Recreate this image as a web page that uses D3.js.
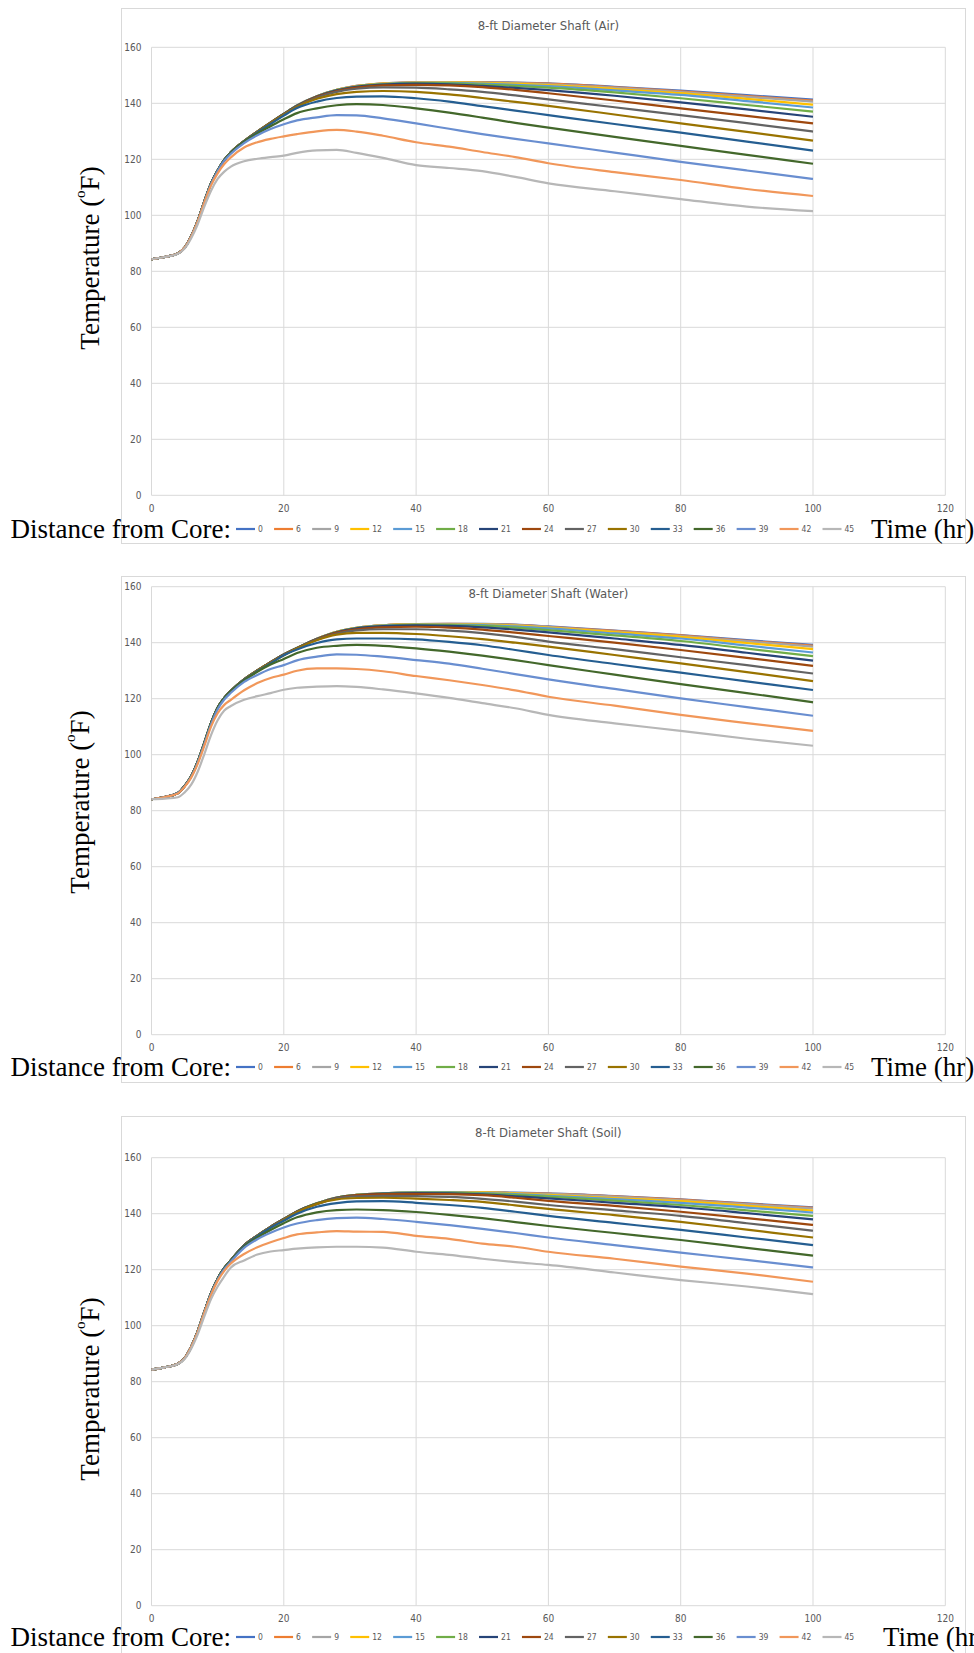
<!DOCTYPE html>
<html>
<head>
<meta charset="utf-8">
<script src="https://cdn.jsdelivr.net/npm/d3@7"></script>
<style>
  body { margin: 0; background: #fff; }
  svg { display: block; }
</style>
</head>
<body>
<svg id="chart" width="974" height="1653"></svg>
<script>
// Time axis samples (hr)
const hours = [0, 2, 4, 5, 6, 7, 8, 9, 10, 11, 12, 14, 16, 18, 20, 22, 25, 28, 31, 35, 40, 45, 50, 55, 60, 70, 80, 90, 100]

// Distance from core (series names)
const distances = [0, 6, 9, 12, 15, 18, 21, 24, 27, 30, 33, 36, 39, 42, 45]

const colors = [
    '#4472c4', '#ed7d31', '#a5a5a5', '#ffc000', '#5b9bd5',
    '#70ad47', '#264478', '#9e480e', '#636363', '#997300',
    '#255e91', '#43682b', '#698ed0', '#f1975a', '#b7b7b7',
]

const titles = [
    '8-ft Diameter Shaft (Air)',
    '8-ft Diameter Shaft (Water)',
    '8-ft Diameter Shaft (Soil)',
]

const xTicks = [0, 20, 40, 60, 80, 100, 120]
const yTicks = [0, 20, 40, 60, 80, 100, 120, 140, 160]

// Temperatures (F), one row per distance, one value per entry of hours
const airTemps = [
    [84.3, 85.1, 86.4, 88.4, 92.5, 98.1, 105.0, 111.4, 116.0, 119.8, 122.5, 126.5, 129.9, 133.1, 136.2, 139.2, 142.5, 144.8, 146.2, 147.1, 147.5, 147.6, 147.6, 147.4, 147.1, 145.9, 144.5, 142.9, 141.3],
    [84.3, 85.1, 86.4, 88.4, 92.5, 98.1, 105.0, 111.4, 116.0, 119.8, 122.5, 126.5, 129.9, 133.1, 136.2, 139.2, 142.5, 144.8, 146.2, 147.1, 147.5, 147.6, 147.5, 147.3, 147.0, 145.7, 144.3, 142.6, 141.0],
    [84.3, 85.1, 86.4, 88.4, 92.5, 98.1, 105.0, 111.4, 116.0, 119.8, 122.5, 126.5, 129.9, 133.1, 136.2, 139.2, 142.5, 144.8, 146.1, 147.0, 147.4, 147.5, 147.4, 147.2, 146.8, 145.5, 144.0, 142.3, 140.6],
    [84.3, 85.1, 86.4, 88.4, 92.5, 98.1, 105.0, 111.4, 116.0, 119.8, 122.5, 126.5, 129.9, 133.1, 136.2, 139.2, 142.5, 144.8, 146.1, 147.0, 147.4, 147.5, 147.3, 147.0, 146.5, 145.1, 143.6, 141.6, 139.5],
    [84.3, 85.1, 86.4, 88.4, 92.5, 98.1, 105.0, 111.4, 116.0, 119.8, 122.5, 126.5, 129.9, 133.1, 136.2, 139.2, 142.5, 144.7, 146.0, 146.9, 147.3, 147.3, 147.0, 146.6, 146.1, 144.6, 143.0, 140.8, 138.5],
    [84.3, 85.1, 86.4, 88.4, 92.5, 98.1, 105.0, 111.4, 116.0, 119.8, 122.5, 126.5, 129.9, 133.1, 136.2, 139.1, 142.4, 144.7, 146.0, 146.8, 147.2, 147.1, 146.7, 146.2, 145.6, 143.9, 141.8, 139.4, 137.0],
    [84.3, 85.1, 86.4, 88.4, 92.5, 98.1, 105.0, 111.4, 116.0, 119.8, 122.5, 126.5, 129.9, 133.1, 136.2, 139.1, 142.4, 144.6, 145.9, 146.7, 147.0, 146.8, 146.2, 145.5, 144.7, 142.7, 140.3, 137.8, 135.2],
    [84.3, 85.1, 86.4, 88.4, 92.5, 98.1, 105.0, 111.4, 116.0, 119.8, 122.5, 126.5, 129.9, 133.1, 136.1, 139.0, 142.3, 144.4, 145.6, 146.4, 146.6, 146.4, 145.8, 144.8, 143.6, 141.0, 138.2, 135.5, 132.8],
    [84.3, 85.1, 86.4, 88.4, 92.5, 98.1, 105.0, 111.4, 116.0, 119.8, 122.5, 126.5, 129.9, 133.0, 136.0, 138.9, 142.1, 144.1, 145.2, 145.7, 145.6, 145.0, 144.1, 142.8, 141.4, 138.6, 135.8, 132.9, 129.9],
    [84.3, 85.1, 86.4, 88.4, 92.5, 98.1, 105.0, 111.4, 116.0, 119.8, 122.5, 126.5, 129.8, 132.9, 135.9, 138.7, 141.6, 143.3, 144.1, 144.4, 144.1, 143.2, 141.9, 140.5, 139.1, 136.0, 132.8, 129.8, 126.7],
    [84.3, 85.1, 86.4, 88.4, 92.5, 98.1, 105.0, 111.4, 116.0, 119.8, 122.4, 126.4, 129.6, 132.6, 135.6, 138.3, 140.6, 141.9, 142.4, 142.5, 141.8, 140.6, 139.0, 137.4, 135.8, 132.6, 129.5, 126.3, 123.1],
    [84.3, 85.1, 86.4, 88.4, 92.5, 98.1, 105.0, 111.4, 116.0, 119.7, 122.3, 126.2, 129.2, 131.8, 134.3, 136.5, 138.2, 139.3, 139.7, 139.4, 138.2, 136.7, 134.9, 133.0, 131.3, 128.0, 124.8, 121.6, 118.4],
    [84.3, 85.1, 86.4, 88.4, 92.5, 98.0, 104.9, 111.2, 115.8, 119.5, 122.0, 125.8, 128.6, 130.8, 132.5, 133.9, 135.0, 135.8, 135.7, 134.6, 132.8, 130.9, 129.0, 127.3, 125.7, 122.4, 119.1, 116.0, 113.0],
    [84.3, 85.1, 86.4, 88.4, 92.4, 97.9, 104.6, 110.7, 115.0, 118.3, 120.7, 124.2, 126.1, 127.3, 128.2, 129.0, 130.0, 130.5, 129.9, 128.4, 126.1, 124.5, 122.6, 120.8, 118.6, 115.4, 112.6, 109.4, 106.9],
    [84.3, 85.1, 86.3, 88.1, 91.8, 96.9, 103.2, 108.8, 113.0, 115.6, 117.4, 119.3, 120.2, 120.8, 121.3, 122.3, 123.2, 123.4, 122.3, 120.5, 117.9, 116.9, 115.8, 113.7, 111.4, 108.6, 105.8, 103.1, 101.5],
]

const waterTemps = [
    [84.1, 84.9, 86.3, 88.8, 92.3, 97.6, 104.3, 111.3, 116.8, 120.3, 122.8, 126.9, 130.1, 133.0, 135.8, 138.1, 141.4, 143.9, 145.3, 146.2, 146.6, 146.7, 146.7, 146.5, 145.8, 144.3, 142.7, 140.9, 139.2],
    [84.1, 84.9, 86.3, 88.8, 92.3, 97.6, 104.3, 111.3, 116.8, 120.3, 122.8, 126.9, 130.1, 133.0, 135.8, 138.1, 141.4, 143.9, 145.3, 146.2, 146.6, 146.7, 146.6, 146.4, 145.7, 144.2, 142.6, 140.7, 138.9],
    [84.1, 84.9, 86.3, 88.8, 92.3, 97.6, 104.3, 111.3, 116.8, 120.3, 122.8, 126.9, 130.1, 133.0, 135.8, 138.1, 141.4, 143.9, 145.3, 146.2, 146.6, 146.6, 146.6, 146.3, 145.6, 144.0, 142.4, 140.5, 138.6],
    [84.1, 84.9, 86.3, 88.8, 92.3, 97.6, 104.3, 111.3, 116.8, 120.3, 122.8, 126.9, 130.1, 133.0, 135.8, 138.1, 141.4, 143.9, 145.3, 146.2, 146.6, 146.6, 146.5, 146.1, 145.4, 143.8, 142.1, 139.9, 137.7],
    [84.1, 84.9, 86.3, 88.8, 92.3, 97.6, 104.3, 111.3, 116.8, 120.3, 122.8, 126.9, 130.1, 133.0, 135.8, 138.1, 141.4, 143.8, 145.2, 146.1, 146.5, 146.5, 146.3, 145.8, 145.1, 143.3, 141.5, 139.0, 136.5],
    [84.1, 84.9, 86.3, 88.8, 92.3, 97.6, 104.3, 111.3, 116.8, 120.3, 122.8, 126.9, 130.1, 133.0, 135.8, 138.1, 141.3, 143.8, 145.2, 146.0, 146.4, 146.3, 146.0, 145.4, 144.5, 142.6, 140.6, 137.9, 135.2],
    [84.1, 84.9, 86.3, 88.8, 92.3, 97.6, 104.3, 111.3, 116.8, 120.3, 122.8, 126.9, 130.1, 133.0, 135.8, 138.1, 141.3, 143.7, 145.1, 145.9, 146.2, 146.0, 145.5, 144.7, 143.7, 141.5, 139.2, 136.4, 133.6],
    [84.1, 84.9, 86.3, 88.8, 92.3, 97.6, 104.3, 111.3, 116.8, 120.3, 122.8, 126.9, 130.1, 133.0, 135.7, 138.0, 141.2, 143.6, 144.8, 145.5, 145.7, 145.4, 144.7, 143.6, 142.4, 140.0, 137.4, 134.6, 131.7],
    [84.1, 84.9, 86.3, 88.8, 92.3, 97.6, 104.3, 111.3, 116.8, 120.3, 122.8, 126.9, 130.1, 132.9, 135.6, 137.9, 141.1, 143.3, 144.4, 144.8, 144.8, 144.3, 143.4, 142.1, 140.4, 137.7, 134.8, 132.0, 129.0],
    [84.1, 84.9, 86.3, 88.8, 92.3, 97.6, 104.3, 111.3, 116.8, 120.3, 122.8, 126.8, 130.0, 132.8, 135.5, 137.9, 140.9, 142.9, 143.5, 143.5, 143.1, 142.3, 141.3, 140.0, 138.6, 135.6, 132.6, 129.5, 126.3],
    [84.1, 84.9, 86.3, 88.8, 92.3, 97.6, 104.3, 111.3, 116.8, 120.3, 122.7, 126.7, 129.8, 132.6, 135.5, 137.6, 139.9, 141.2, 141.5, 141.5, 141.2, 140.3, 139.1, 137.4, 135.6, 132.4, 129.3, 126.2, 123.1],
    [84.1, 84.9, 86.3, 88.8, 92.3, 97.6, 104.3, 111.3, 116.8, 120.2, 122.6, 126.5, 129.6, 132.2, 134.2, 136.3, 138.2, 138.9, 139.2, 138.9, 138.0, 136.8, 135.4, 133.8, 132.0, 128.6, 125.2, 122.0, 118.7],
    [84.1, 84.9, 86.3, 88.7, 92.1, 97.3, 103.9, 110.8, 116.2, 119.7, 122.1, 126.0, 128.5, 130.6, 132.0, 133.7, 135.0, 135.8, 135.7, 135.0, 133.8, 132.5, 130.7, 128.8, 126.9, 123.5, 120.1, 117.0, 113.9],
    [84.1, 84.9, 86.2, 88.5, 91.8, 96.8, 103.2, 110.0, 114.8, 117.8, 119.6, 123.0, 125.6, 127.4, 128.6, 130.0, 130.8, 130.8, 130.6, 129.8, 128.1, 126.6, 124.9, 123.0, 120.7, 117.5, 114.2, 111.3, 108.5],
    [84.1, 84.3, 84.8, 86.5, 89.3, 94.0, 100.3, 107.0, 112.3, 115.8, 117.4, 119.6, 120.9, 122.0, 123.2, 123.9, 124.3, 124.5, 124.2, 123.3, 121.9, 120.3, 118.4, 116.6, 114.2, 111.2, 108.5, 105.7, 103.2],
]

const soilTemps = [
    [84.3, 85.1, 86.4, 88.4, 92.5, 98.1, 105.0, 111.6, 116.8, 120.6, 123.4, 128.7, 132.2, 135.3, 138.1, 140.8, 143.7, 145.8, 146.7, 147.3, 147.6, 147.7, 147.7, 147.5, 147.3, 146.3, 145.1, 143.7, 142.3],
    [84.3, 85.1, 86.4, 88.4, 92.5, 98.1, 105.0, 111.6, 116.8, 120.6, 123.4, 128.7, 132.2, 135.3, 138.1, 140.8, 143.7, 145.8, 146.7, 147.3, 147.6, 147.7, 147.6, 147.4, 147.2, 146.2, 145.0, 143.5, 142.1],
    [84.3, 85.1, 86.4, 88.4, 92.5, 98.1, 105.0, 111.6, 116.8, 120.6, 123.4, 128.7, 132.2, 135.3, 138.1, 140.8, 143.7, 145.8, 146.7, 147.3, 147.6, 147.6, 147.6, 147.3, 147.1, 146.0, 144.8, 143.3, 141.8],
    [84.3, 85.1, 86.4, 88.4, 92.5, 98.1, 105.0, 111.6, 116.8, 120.6, 123.4, 128.7, 132.2, 135.3, 138.1, 140.8, 143.7, 145.8, 146.7, 147.3, 147.6, 147.6, 147.6, 147.3, 146.7, 145.6, 144.5, 142.8, 141.1],
    [84.3, 85.1, 86.4, 88.4, 92.5, 98.1, 105.0, 111.6, 116.8, 120.6, 123.4, 128.7, 132.2, 135.3, 138.1, 140.8, 143.7, 145.8, 146.7, 147.3, 147.6, 147.6, 147.4, 147.0, 146.4, 145.2, 143.9, 142.2, 140.4],
    [84.3, 85.1, 86.4, 88.4, 92.5, 98.1, 105.0, 111.6, 116.8, 120.6, 123.4, 128.7, 132.2, 135.3, 138.1, 140.8, 143.7, 145.7, 146.7, 147.2, 147.5, 147.5, 147.2, 146.7, 146.1, 144.7, 143.1, 141.2, 139.2],
    [84.3, 85.1, 86.4, 88.4, 92.5, 98.1, 105.0, 111.6, 116.8, 120.6, 123.4, 128.7, 132.2, 135.3, 138.1, 140.8, 143.6, 145.7, 146.6, 147.2, 147.4, 147.3, 146.9, 146.2, 145.5, 143.9, 142.3, 140.2, 138.0],
    [84.3, 85.1, 86.4, 88.4, 92.5, 98.1, 105.0, 111.6, 116.8, 120.6, 123.4, 128.7, 132.2, 135.3, 138.0, 140.7, 143.5, 145.6, 146.6, 147.0, 147.1, 147.0, 146.6, 145.7, 144.6, 142.8, 140.7, 138.4, 136.0],
    [84.3, 85.1, 86.4, 88.4, 92.5, 98.1, 105.0, 111.6, 116.8, 120.6, 123.4, 128.7, 132.2, 135.2, 137.9, 140.6, 143.4, 145.5, 146.2, 146.4, 146.3, 146.0, 145.3, 144.3, 143.1, 141.2, 139.2, 136.6, 133.9],
    [84.3, 85.1, 86.4, 88.4, 92.5, 98.1, 105.0, 111.6, 116.8, 120.6, 123.4, 128.6, 132.1, 135.1, 137.8, 140.5, 143.5, 145.1, 145.6, 145.7, 145.4, 144.9, 144.2, 143.0, 141.7, 139.5, 137.1, 134.3, 131.5],
    [84.3, 85.1, 86.4, 88.4, 92.5, 98.1, 105.0, 111.6, 116.8, 120.6, 123.3, 128.5, 132.0, 135.0, 137.5, 140.0, 142.5, 143.8, 144.4, 144.5, 143.9, 143.1, 142.1, 140.7, 139.2, 136.7, 134.2, 131.5, 128.8],
    [84.3, 85.1, 86.4, 88.4, 92.5, 98.1, 105.0, 111.6, 116.8, 120.5, 123.2, 128.2, 131.5, 134.2, 136.6, 138.7, 140.5, 141.3, 141.5, 141.3, 140.6, 139.6, 138.4, 137.0, 135.6, 133.1, 130.6, 127.8, 125.0],
    [84.3, 85.1, 86.4, 88.4, 92.5, 98.0, 104.9, 111.4, 116.5, 120.2, 122.9, 127.8, 130.9, 133.2, 135.1, 136.5, 137.7, 138.4, 138.6, 138.1, 137.1, 135.9, 134.6, 133.1, 131.5, 128.8, 126.1, 123.5, 120.8],
    [84.3, 85.1, 86.4, 88.4, 92.4, 97.9, 104.7, 111.0, 116.0, 119.6, 122.2, 125.6, 128.0, 129.8, 131.3, 132.6, 133.3, 133.8, 133.6, 133.5, 132.1, 131.0, 129.3, 128.2, 126.4, 123.9, 121.1, 118.6, 115.7],
    [84.3, 85.1, 86.3, 88.1, 91.8, 97.0, 103.4, 109.5, 114.0, 117.6, 120.8, 123.3, 125.4, 126.5, 127.0, 127.5, 128.0, 128.2, 128.2, 127.9, 126.4, 125.3, 123.9, 122.7, 121.7, 119.0, 116.3, 114.0, 111.3],
]

/* Layout of the three stacked panels */
const panels = [
    { title: titles[0], temps: airTemps, boxTop: 8, boxBottom: 543, titleY: 25, plotTop: 47.3, yLabel: [90, 258], rowY: 529, timeX: 871 },
    { title: titles[1], temps: waterTemps, boxTop: 576, boxBottom: 1082, titleY: 593, plotTop: 586.7, yLabel: [80, 802], rowY: 1067, timeX: 871 },
    { title: titles[2], temps: soilTemps, boxTop: 1116, boxBottom: 1700, titleY: 1132, plotTop: 1157.7, yLabel: [90, 1389], rowY: 1637, timeX: 883 },
]

const boxLeft = 121
const boxRight = 965
const plotLeft = 151.5
const plotRight = 945.3
const plotHeight = 448
const gridColor = '#d9d9d9'
const labelColor = '#595959'
const smallFont = '"Liberation Sans Narrow", "DejaVu Sans Condensed", "Open Sans", sans-serif'
const serifFont = '"Liberation Serif", "Times New Roman", serif'

const svg = d3.select('#chart')

svg.append('rect')
    .attr('width', 974)
    .attr('height', 1653)
    .attr('fill', '#fff')

const x = d3.scaleLinear().domain([0, 120]).range([plotLeft, plotRight])

function drawPanel(p) {
    const g = svg.append('g')

    const y = d3.scaleLinear().domain([0, 160]).range([p.plotTop + plotHeight, p.plotTop])

    // Chart box
    g.append('rect')
        .attr('x', boxLeft + 0.5)
        .attr('y', p.boxTop + 0.5)
        .attr('width', boxRight - boxLeft)
        .attr('height', p.boxBottom - p.boxTop)
        .attr('fill', '#fff')
        .attr('stroke', gridColor)
        .attr('stroke-width', 1)

    // Title
    g.append('text')
        .attr('x', (plotLeft + plotRight) / 2)
        .attr('y', p.titleY)
        .attr('text-anchor', 'middle')
        .attr('dominant-baseline', 'central')
        .attr('font-family', smallFont)
        .attr('font-size', 13)
        .attr('fill', labelColor)
        .text(p.title)

    // Gridlines
    g.append('g')
        .selectAll('line')
        .data(yTicks)
        .join('line')
        .attr('x1', plotLeft)
        .attr('x2', plotRight)
        .attr('y1', d => y(d))
        .attr('y2', d => y(d))
        .attr('stroke', gridColor)

    g.append('g')
        .selectAll('line')
        .data(xTicks)
        .join('line')
        .attr('x1', d => x(d))
        .attr('x2', d => x(d))
        .attr('y1', y(160))
        .attr('y2', y(0))
        .attr('stroke', gridColor)

    // Tick labels
    g.append('g')
        .selectAll('text')
        .data(yTicks)
        .join('text')
        .attr('x', plotLeft - 10)
        .attr('y', d => y(d))
        .attr('text-anchor', 'end')
        .attr('dominant-baseline', 'central')
        .attr('font-family', smallFont)
        .attr('font-size', 10)
        .attr('fill', labelColor)
        .text(d => d)

    g.append('g')
        .selectAll('text')
        .data(xTicks)
        .join('text')
        .attr('x', d => x(d))
        .attr('y', y(0) + 13)
        .attr('text-anchor', 'middle')
        .attr('dominant-baseline', 'central')
        .attr('font-family', smallFont)
        .attr('font-size', 10)
        .attr('fill', labelColor)
        .text(d => d)

    // Series
    const line = d3.line()
        .x((d, i) => x(hours[i]))
        .y(d => y(d))
        .curve(d3.curveMonotoneX)

    g.append('g')
        .attr('fill', 'none')
        .attr('stroke-width', 2.2)
        .attr('stroke-linejoin', 'round')
        .selectAll('path')
        .data(p.temps)
        .join('path')
        .attr('stroke', (d, i) => colors[i])
        .attr('d', line)

    // Y axis label
    const yl = g.append('text')
        .attr('transform', `translate(${p.yLabel[0]},${p.yLabel[1]}) rotate(-90)`)
        .attr('text-anchor', 'middle')
        .attr('dominant-baseline', 'central')
        .attr('font-family', serifFont)
        .attr('font-size', 27)
        .attr('fill', '#000')
    yl.append('tspan').text('Temperature (')
    yl.append('tspan').attr('font-size', 15).attr('baseline-shift', '70%').text('o')
    yl.append('tspan').text('F)')

    // Bottom row: caption, legend, axis name
    g.append('text')
        .attr('x', 10.5)
        .attr('y', p.rowY)
        .attr('dominant-baseline', 'central')
        .attr('font-family', serifFont)
        .attr('font-size', 27)
        .attr('fill', '#000')
        .text('Distance from Core:')

    g.append('text')
        .attr('x', p.timeX)
        .attr('y', p.rowY)
        .attr('dominant-baseline', 'central')
        .attr('font-family', serifFont)
        .attr('font-size', 27)
        .attr('fill', '#000')
        .text('Time (hr)')

    let lx = 236
    distances.forEach((dist, i) => {
        g.append('line')
            .attr('x1', lx)
            .attr('x2', lx + 19)
            .attr('y1', p.rowY)
            .attr('y2', p.rowY)
            .attr('stroke', colors[i])
            .attr('stroke-width', 2.2)
        const t = g.append('text')
            .attr('x', lx + 22)
            .attr('y', p.rowY)
            .attr('dominant-baseline', 'central')
            .attr('font-family', smallFont)
            .attr('font-size', 8.5)
            .attr('fill', labelColor)
            .text(dist)
        lx += 22 + t.node().getComputedTextLength() + 11.2
    })
}

panels.forEach(drawPanel)
</script>
</body>
</html>
